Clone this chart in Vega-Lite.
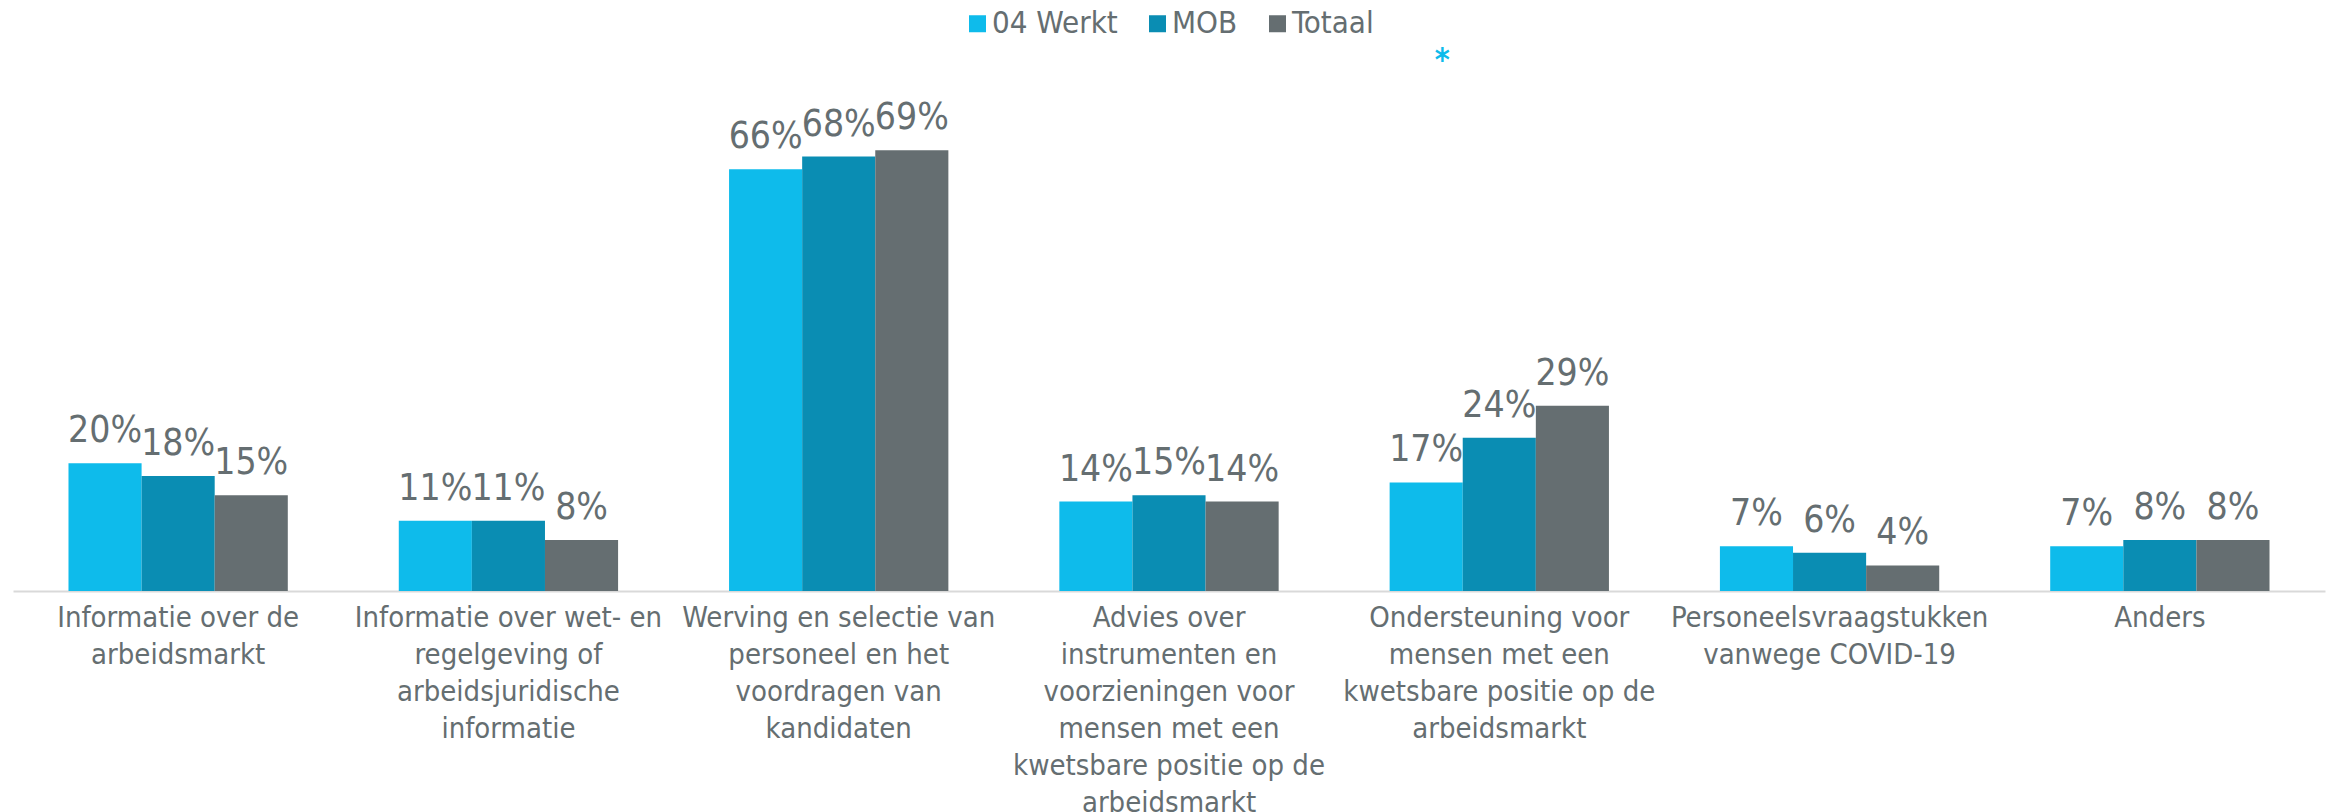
{
  "$schema": "https://vega.github.io/schema/vega-lite/v6.json",
  "width": 2312,
  "height": 545,
  "autosize": {"type": "none"},
  "padding": {"left": 13, "top": 46, "right": 3, "bottom": 221},
  "background": "white",
  "config": {"view": {"stroke": null}, "font": "DejaVu Sans Condensed"},
  "data": {
    "values": [
      {"categorie": "Informatie over de arbeidsmarkt", "groep": "04 Werkt", "pct": 0.20},
      {"categorie": "Informatie over de arbeidsmarkt", "groep": "MOB", "pct": 0.18},
      {"categorie": "Informatie over de arbeidsmarkt", "groep": "Totaal", "pct": 0.15},
      {"categorie": "Informatie over wet- en regelgeving of arbeidsjuridische informatie", "groep": "04 Werkt", "pct": 0.11},
      {"categorie": "Informatie over wet- en regelgeving of arbeidsjuridische informatie", "groep": "MOB", "pct": 0.11},
      {"categorie": "Informatie over wet- en regelgeving of arbeidsjuridische informatie", "groep": "Totaal", "pct": 0.08},
      {"categorie": "Werving en selectie van personeel en het voordragen van kandidaten", "groep": "04 Werkt", "pct": 0.66},
      {"categorie": "Werving en selectie van personeel en het voordragen van kandidaten", "groep": "MOB", "pct": 0.68},
      {"categorie": "Werving en selectie van personeel en het voordragen van kandidaten", "groep": "Totaal", "pct": 0.69},
      {"categorie": "Advies over instrumenten en voorzieningen voor mensen met een kwetsbare positie op de arbeidsmarkt", "groep": "04 Werkt", "pct": 0.14},
      {"categorie": "Advies over instrumenten en voorzieningen voor mensen met een kwetsbare positie op de arbeidsmarkt", "groep": "MOB", "pct": 0.15},
      {"categorie": "Advies over instrumenten en voorzieningen voor mensen met een kwetsbare positie op de arbeidsmarkt", "groep": "Totaal", "pct": 0.14},
      {"categorie": "Ondersteuning voor mensen met een kwetsbare positie op de arbeidsmarkt", "groep": "04 Werkt", "pct": 0.17},
      {"categorie": "Ondersteuning voor mensen met een kwetsbare positie op de arbeidsmarkt", "groep": "MOB", "pct": 0.24},
      {"categorie": "Ondersteuning voor mensen met een kwetsbare positie op de arbeidsmarkt", "groep": "Totaal", "pct": 0.29},
      {"categorie": "Personeelsvraagstukken vanwege COVID-19", "groep": "04 Werkt", "pct": 0.07},
      {"categorie": "Personeelsvraagstukken vanwege COVID-19", "groep": "MOB", "pct": 0.06},
      {"categorie": "Personeelsvraagstukken vanwege COVID-19", "groep": "Totaal", "pct": 0.04},
      {"categorie": "Anders", "groep": "04 Werkt", "pct": 0.07},
      {"categorie": "Anders", "groep": "MOB", "pct": 0.08},
      {"categorie": "Anders", "groep": "Totaal", "pct": 0.08}
    ]
  },
  "encoding": {
    "x": {
      "field": "categorie",
      "type": "nominal",
      "sort": null,
      "scale": {"paddingInner": 0.336, "paddingOuter": 0.168},
      "axis": {
        "title": null,
        "ticks": false,
        "domainColor": "#d9d9d9",
        "domainWidth": 2,
        "labelAngle": 0,
        "labelFont": "DejaVu Sans Condensed",
        "labelFontSize": 29,
        "labelColor": "#656E71",
        "labelLineHeight": 37,
        "labelPadding": 12,
        "labelBaseline": "top",
        "labelLimit": 400,
        "labelExpr": "{'Informatie over de arbeidsmarkt': ['Informatie over de', 'arbeidsmarkt'], 'Informatie over wet- en regelgeving of arbeidsjuridische informatie': ['Informatie over wet- en', 'regelgeving of', 'arbeidsjuridische', 'informatie'], 'Werving en selectie van personeel en het voordragen van kandidaten': ['Werving en selectie van', 'personeel en het', 'voordragen van', 'kandidaten'], 'Advies over instrumenten en voorzieningen voor mensen met een kwetsbare positie op de arbeidsmarkt': ['Advies over', 'instrumenten en', 'voorzieningen voor', 'mensen met een', 'kwetsbare positie op de', 'arbeidsmarkt'], 'Ondersteuning voor mensen met een kwetsbare positie op de arbeidsmarkt': ['Ondersteuning voor', 'mensen met een', 'kwetsbare positie op de', 'arbeidsmarkt'], 'Personeelsvraagstukken vanwege COVID-19': ['Personeelsvraagstukken', 'vanwege COVID-19'], 'Anders': ['Anders']}[datum.label]"
      }
    },
    "xOffset": {"field": "groep", "type": "nominal", "sort": ["04 Werkt", "MOB", "Totaal"]},
    "y": {"field": "pct", "type": "quantitative", "scale": {"domain": [0, 0.853], "nice": false}, "axis": null}
  },
  "layer": [
    {
      "mark": {"type": "bar"},
      "encoding": {
        "color": {
          "field": "groep",
          "type": "nominal",
          "sort": ["04 Werkt", "MOB", "Totaal"],
          "scale": {"domain": ["04 Werkt", "MOB", "Totaal"], "range": ["#0EBBEB", "#0A8DB3", "#656E71"]},
          "legend": {
            "orient": "none",
            "legendX": 949,
            "legendY": -38,
            "direction": "horizontal",
            "title": null,
            "symbolType": "square",
            "symbolSize": 289,
            "symbolStrokeWidth": 0,
            "labelFont": "DejaVu Sans Condensed",
            "labelFontSize": 31,
            "labelColor": "#656E71",
            "columnPadding": 24,
            "labelOffset": -1
          }
        }
      }
    },
    {
      "mark": {"type": "text", "baseline": "alphabetic", "dy": -21, "font": "DejaVu Sans Condensed", "fontSize": 37, "color": "#656E71"},
      "encoding": {"text": {"field": "pct", "type": "quantitative", "format": ".0%"}}
    },
    {
      "data": {"values": [{"categorie": "Ondersteuning voor mensen met een kwetsbare positie op de arbeidsmarkt", "groep": "04 Werkt", "pct": 0.84, "teken": "*"}]},
      "mark": {"type": "text", "baseline": "middle", "dx": 16, "dy": 6, "fontSize": 32, "fontWeight": "bold", "color": "#0EBBEB"},
      "encoding": {"text": {"field": "teken"}}
    }
  ]
}
